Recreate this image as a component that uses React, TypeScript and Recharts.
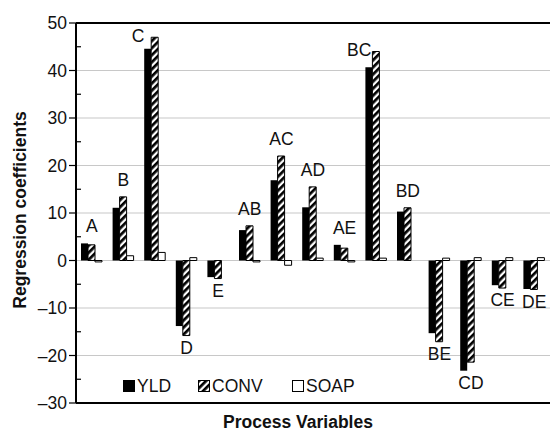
import React from 'react';
import {
  ComposedChart,
  Bar,
  Line,
  XAxis,
  YAxis,
  CartesianGrid,
  ReferenceLine,
  LabelList,
  Label,
} from 'recharts';

const FONT = '"Liberation Sans", Arial, Helvetica, sans-serif';

const categories = ['A', 'B', 'C', 'D', 'E', 'AB', 'AC', 'AD', 'AE', 'BC', 'BD', 'BE', 'CD', 'CE', 'DE'];
const yld = [3.6, 11.1, 44.6, -13.8, -3.5, 6.4, 16.9, 11.2, 3.3, 40.7, 10.3, -15.3, -23.2, -5.2, -6.0];
const conv = [3.3, 13.4, 47.0, -15.8, -3.8, 7.3, 22.0, 15.5, 2.6, 44.0, 11.1, -17.1, -21.4, -5.8, -6.1];
const soap = [-0.3, 1.0, 1.7, 0.6, 0, -0.3, -1.0, 0.5, -0.3, 0.5, 0, 0.5, 0.6, 0.6, 0.6];

const yTicks = [-30, -25, -20, -15, -10, -5, 0, 5, 10, 15, 20, 25, 30, 35, 40, 45, 50];
const gridValues = [-20, -10, 0, 10, 20, 30, 40];
const seriesNames = ['YLD', 'CONV', 'SOAP'];

// label sits just beyond the tallest bar of each group; very tall groups get it beside the bar
const rows = categories.map((name, i) => {
  const hi = Math.max(yld[i], conv[i]);
  const lo = Math.min(yld[i], conv[i]);
  let labelY = hi > 0 ? hi + 3.6 : lo - 2.6;
  let beside = false;
  if (hi > 40) {
    labelY = conv[i] + 0.3;
    beside = true;
  }
  return { name, yld: yld[i], conv: conv[i], soap: soap[i], labelY, beside };
});

const YTick = (props: any) => {
  const { x, y, payload } = props;
  const v = payload.value;
  const axisX = x + 8;
  if (v % 10 !== 0) {
    return <line x1={axisX} x2={axisX + 5} y1={y} y2={y} stroke="#000" strokeWidth={1.2} />;
  }
  return (
    <g>
      <line x1={axisX - 7} x2={axisX} y1={y} y2={y} stroke="#000" strokeWidth={1.2} />
      <text x={x - 1} y={y} dy={6} textAnchor="end" fontSize={17.5} fontFamily={FONT} fill="#111">
        {String(v).replace('-', '\u2013')}
      </text>
    </g>
  );
};

const CatLabel = (props: any) => {
  const { x, y, index, value } = props;
  const dx = rows[index].beside ? -17 : 0;
  return (
    <text x={x + dx} y={y} dy={6} textAnchor="middle" fontSize={17.5} fontFamily={FONT} fill="#111">
      {value}
    </text>
  );
};

const LegendBox = () => {
  const items = [
    { left: 123, fill: '#000' },
    { left: 198, fill: 'url(#hatchLeg)' },
    { left: 292, fill: '#fff' },
  ];
  return (
    <svg width={550} height={26} style={{ position: 'absolute', left: 0, top: 373 }}>
      <defs>
        <pattern id="hatchLeg" patternUnits="userSpaceOnUse" width={5} height={5} patternTransform="rotate(45)">
          <rect width={5} height={5} fill="#fff" />
          <rect width={2.7} height={5} fill="#000" />
        </pattern>
      </defs>
      {items.map((it, i) => (
        <g key={seriesNames[i]}>
          <rect x={it.left + 0.5} y={7.5} width={11} height={11} fill={it.fill} stroke="#000" strokeWidth={1} />
          <text x={it.left + 14} y={19} fontSize={17.5} fontFamily={FONT} fill="#111">
            {seriesNames[i]}
          </text>
        </g>
      ))}
    </svg>
  );
};

export default function App() {
  return (
    <div style={{ position: 'absolute', left: 0, top: 0, width: 550, height: 431, background: '#fff' }}>
      <ComposedChart
        width={550}
        height={431}
        data={rows}
        margin={{ top: 23, right: 0, left: 0, bottom: 0 }}
        barGap={0}
        barSize={7}
      >
        <defs>
          <pattern id="hatch" patternUnits="userSpaceOnUse" width={5} height={5} patternTransform="rotate(45)">
            <rect width={5} height={5} fill="#fff" />
            <rect width={2.7} height={5} fill="#000" />
          </pattern>
        </defs>
        <CartesianGrid vertical={false} horizontalValues={gridValues} stroke="#c8c8c8" strokeWidth={1.2} />
        <XAxis
          dataKey="name"
          tick={false}
          tickLine={false}
          height={28}
          axisLine={{ stroke: '#000', strokeWidth: 2 }}
        >
          <Label
            content={(p: any) => {
              const vb = p.viewBox;
              return (
                <text
                  x={vb.x + vb.width / 2 - 15}
                  y={vb.y + 25}
                  textAnchor="middle"
                  fontSize={17.5}
                  fontWeight="bold"
                  fontFamily={FONT}
                  fill="#111"
                >
                  Process Variables
                </text>
              );
            }}
          />
        </XAxis>
        <YAxis
          domain={[-30, 50]}
          ticks={yTicks}
          interval={0}
          width={76}
          tickSize={7}
          tickMargin={1}
          tickLine={false}
          tick={<YTick />}
          axisLine={{ stroke: '#000', strokeWidth: 2 }}
          allowDataOverflow
        >
          <Label
            content={() => (
              <text
                x={26}
                y={210}
                transform="rotate(-90 26 210)"
                textAnchor="middle"
                fontSize={17.5}
                fontWeight="bold"
                fontFamily={FONT}
                fill="#111"
              >
                Regression coefficients
              </text>
            )}
          />
        </YAxis>
        <ReferenceLine y={50} stroke="#000" strokeWidth={2} />
        <Bar dataKey="yld" fill="#000" isAnimationActive={false} />
        <Bar dataKey="conv" fill="url(#hatch)" stroke="#000" strokeWidth={1} isAnimationActive={false} />
        <Bar dataKey="soap" fill="#fff" stroke="#000" strokeWidth={1} isAnimationActive={false} />
        <Line
          dataKey="labelY"
          stroke="none"
          dot={false}
          activeDot={false}
          legendType="none"
          isAnimationActive={false}
        >
          <LabelList dataKey="name" content={<CatLabel />} />
        </Line>
      </ComposedChart>
      <LegendBox />
    </div>
  );
}
